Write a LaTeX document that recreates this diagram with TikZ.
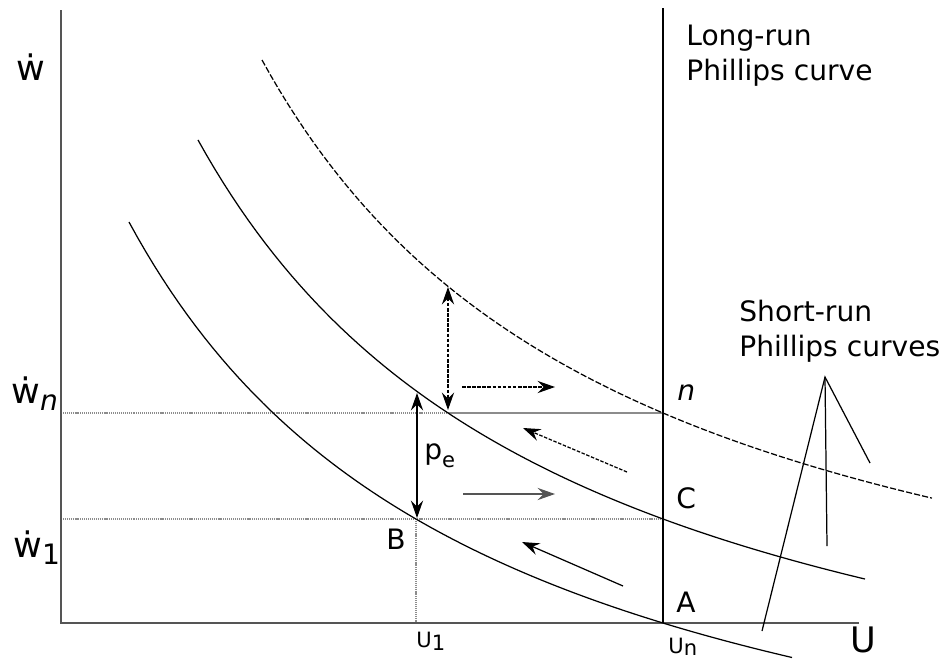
\documentclass[tikz,border=0pt]{standalone}
\usepackage{fontspec}
\setmainfont{DejaVu Sans}
\usetikzlibrary{arrows.meta,positioning}
\definecolor{axisgray}{RGB}{85,85,85}
\definecolor{guidegray}{RGB}{140,140,140}

\begin{document}
\begin{tikzpicture}[x=0.02cm,y=-0.02cm,
  axisline/.style={axisgray,line width=1.1pt},
  srpc/.style={line width=0.7pt,samples=80,variable=\u},
  guide/.style={guidegray,line width=0.6pt,dash pattern=on 0.6pt off 0.5pt},
  gap/.style={line width=0.7pt,{Stealth[length=10pt,width=7pt,inset=3.5pt]}-{Stealth[length=10pt,width=7pt,inset=3.5pt]}},
  drift/.style={line width=0.7pt,-{Stealth[length=10pt,width=7pt,inset=3.5pt]}},
  fine/.style={dash pattern=on 2pt off 0.9pt},
  lbl/.style={inner sep=0,anchor=base west,font=\fontsize{16}{19}\selectfont},
  big/.style={inner sep=0,anchor=base west,font=\fontsize{20}{24}\selectfont},
  tick/.style={inner sep=0,anchor=base west,font=\fontsize{12}{14}\selectfont}]
  \useasboundingbox (0,0) rectangle (946,660);
  \coordinate (O) at (61,623);
  \coordinate (top) at (61,10);
  \coordinate (xend) at (859,623);
  \coordinate (lrtop) at (663,8);
  \coordinate (A) at (663,623);
  \coordinate (C) at (663,519);
  \coordinate (N) at (663,413);
  \coordinate (B) at (416,519);
  \coordinate (Q) at (448,413);
  \coordinate (wn) at (61,413);
  \coordinate (w1) at (61,519);
  \coordinate (u1) at (416,623);
  \coordinate (tip) at (825,377);
  \draw[guide] (wn) -- (Q);
  \draw[guidegray,line width=0.6pt] (Q) -- (N);
  \draw[guide] (w1) -- (C);
  \draw[guide] (B) -- (u1);
  \draw[axisline] (top) -- (O) -- (xend);
  \draw[line width=0.7pt] (lrtop) -- (A);
  \draw[srpc,domain=129:792] plot (\u,{898-2475.38/((\u+237.2)/100)});
  \draw[srpc,domain=198:865] plot (\u,{831-2645.22/((\u+184.8)/100)});
  \draw[srpc,domain=262:932,dash pattern=on 3.5pt off 1.2pt] plot (\u,{744-2571.84/((\u+114)/100)});
  \draw[gap] (417,393) -- (417,518);
  \draw[gap,fine] (448,287) -- (448,410);
  \draw[drift,fine] (462,387) -- (555,387);
  \draw[drift,fine] (627,472) -- (523,428);
  \draw[drift,axisgray] (463,494) -- (555,494);
  \draw[drift] (623,586) -- (522,542);
  \draw[line width=0.7pt] (870,463) -- (tip) -- (762,631);
  \draw[line width=0.7pt] (tip) -- (827,546);
  \node[big] (wdot) at (16,80) {ẇ};
  \node[big] (wdotn) at (11,403) {ẇ\raisebox{-4pt}{\fontsize{16}{19}\selectfont\itshape n}};
  \node[big] (wdot1) at (13,557) {ẇ\raisebox{-4.5pt}{\fontsize{16}{19}\selectfont 1}};
  \node[big] (uaxis) at (850,652) {U};
  \node[tick] (u1lbl) at (416,647) {U\raisebox{-1.7pt}{1}};
  \node[tick] (unlbl) at (668,653) {U\raisebox{-1.5pt}{n}};
  \node[lbl] (Albl) at (676,612) {A};
  \node[lbl] (Clbl) at (676,508) {C};
  \node[lbl] (Blbl) at (386,549) {B};
  \node[lbl,font=\fontsize{16}{19}\selectfont\itshape] (nlbl) at (677,400) {n};
  \node[lbl] (pe) at (424,459) {p\raisebox{-5pt}{\fontsize{12}{14}\selectfont e}};
  \node[inner sep=0,anchor=north west,align=left,font=\fontsize{16}{19.8}\selectfont] (lrlbl) at (686,25) {Long-run\\Phillips curve};
  \node[inner sep=0,anchor=north west,align=left,font=\fontsize{16}{19.8}\selectfont] (srlbl) at (739,300) {Short-run\\Phillips curves};
\end{tikzpicture}
\end{document}
